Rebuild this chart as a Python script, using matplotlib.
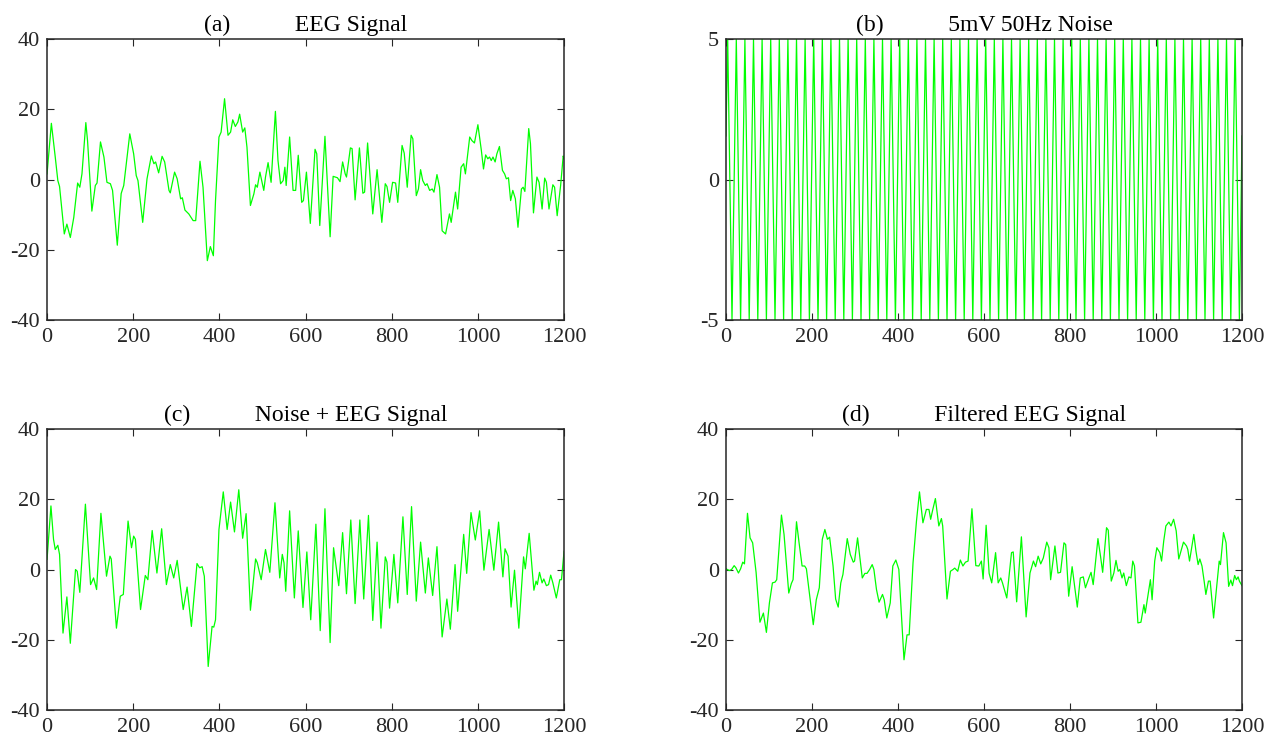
import numpy as np
import matplotlib
matplotlib.use("Agg")
import matplotlib.pyplot as plt

plt.rcParams['font.family'] = ['Liberation Serif', 'DejaVu Serif']
plt.rcParams['axes.unicode_minus'] = False

# (a) EEG signal
eeg_x = [0, 10, 19, 25, 29, 40, 46, 54, 62, 71, 76, 81, 90, 94, 104, 112, 116, 124, 132, 139,
         147, 152, 163, 172, 178, 192, 201, 207, 211, 222, 232, 242, 248, 252, 259, 267, 273, 283, 286, 296,
         302, 310, 314, 320, 329, 339, 345, 355, 362, 372, 379, 386, 391, 399, 404, 412, 420, 426, 431, 437,
         443, 447, 454, 459, 464, 472, 480, 484, 488, 494, 503, 507, 513, 520, 530, 536, 542, 548, 552, 555,
         563, 571, 577, 583, 591, 595, 602, 611, 622, 626, 633, 645, 657, 664, 674, 680, 686, 692, 695, 704,
         708, 715, 725, 733, 737, 744, 756, 766, 777, 785, 789, 795, 802, 809, 814, 824, 829, 836, 845, 849,
         857, 862, 867, 872, 878, 882, 888, 894, 898, 905, 911, 917, 925, 934, 938, 948, 953, 961, 967, 971,
         981, 986, 992, 1000, 1008, 1013, 1018, 1023, 1027, 1031, 1035, 1040, 1044, 1050, 1057, 1062, 1066, 1071, 1076, 1081,
         1087, 1093, 1101, 1105, 1109, 1118, 1122, 1129, 1137, 1142, 1149, 1155, 1159, 1165, 1174, 1178, 1184, 1192, 1198, 1200]
eeg_y = [1.6, 16, 6.4, -0.3, -2, -15.5, -12.7, -16.5, -10.8, -1, -2.2, 1.6, 16.2, 11, -9, -1.7, -1, 10.7, 6.4, -0.8,
         -1.2, -3.1, -18.7, -4, -1.7, 13, 7.3, 1.1, -0.3, -12.2, 0.2, 6.7, 4.5, 5, 1.9, 6.6, 5, -3.1, -3.8, 2.1,
         0.2, -5.5, -5.2, -8.7, -9.8, -11.7, -11.7, 5.2, -2.2, -23.1, -19.1, -21.7, -6, 12.1, 13.5, 23, 12.6, 13.5, 17, 15.1,
         16.4, 18.6, 13.5, 14.7, 9.2, -7.4, -4.1, -1.5, -2.2, 2.1, -3.1, 0.7, 4.8, -0.8, 19.4, 5.4, -1.2, -0.3, 3.5, -1.7,
         12.1, -3.1, -3.1, 6.9, -6.5, -6, 2.1, -12.5, 8.6, 7.3, -13.1, 12.3, -16.3, 0.9, 0.5, -0.6, 5, 1.6, 0.7, 9,
         8.8, -5.8, 9, -3.9, -3.6, 10.4, -9.8, 2.8, -12.2, -1.2, -2, -6.5, -0.8, -1, -6.5, 9.7, 7.5, -2.2, 12.6, 11.6,
         -4.6, -2.7, 2.8, -0.3, -1.7, -1.2, -3.1, -2.7, -3.6, 1.4, -2.2, -14.6, -15.5, -9.8, -12.2, -3.6, -8.4, 3.5, 4.5, 1.6,
         12.1, 11.1, 10.4, 15.6, 8.3, 3, 7, 5.9, 6.4, 5.4, 6.4, 5, 7.3, 9.4, 2.6, 1.6, 0.2, 0.5, -6, -3.1,
         -5.5, -13.6, -2.7, -2.2, -3.4, 14.5, 10.2, -9.5, 0.7, -0.8, -8.4, 0.4, -0.8, -8.4, -1.5, -2.2, -10.3, -1.7, 6.7, 5.9]

# (b) 5mV 50Hz noise: start/end values and the read peak / trough positions
noise_start = 1.55
noise_end = 1.55
noise_peaks = [4, 24, 44, 64, 84, 104, 124, 144, 164, 184, 204, 224, 244, 264, 284, 304, 324, 344, 364, 384,
               404, 424, 444, 464, 484, 504, 524, 544, 564, 584, 604, 624, 644, 664, 684, 704, 724, 744, 764, 784,
               804, 824, 844, 864, 884, 904, 924, 944, 964, 984, 1004, 1024, 1044, 1064, 1084, 1104, 1124, 1144, 1164, 1184]
noise_troughs = [14, 34, 54, 74, 94, 114, 134, 154, 174, 194, 214, 234, 254, 274, 294, 314, 334, 354, 374, 394,
                 414, 434, 454, 474, 494, 514, 534, 554, 574, 594, 614, 634, 654, 674, 694, 714, 734, 754, 774, 794,
                 814, 834, 854, 874, 894, 914, 934, 954, 974, 994, 1014, 1034, 1054, 1074, 1094, 1114, 1134, 1154, 1174, 1194]

# (c) noise + EEG
mix_x = [0, 9, 15, 19, 25, 29, 37, 46, 54, 66, 70, 76, 89, 101, 108, 115, 125, 138, 146, 149,
         161, 170, 177, 188, 196, 201, 205, 217, 228, 234, 244, 255, 266, 277, 286, 294, 302, 316, 325, 335,
         348, 354, 360, 365, 374, 383, 387, 391, 399, 409, 418, 426, 435, 445, 454, 462, 472, 484, 488, 497,
         507, 517, 529, 540, 546, 550, 554, 563, 574, 583, 594, 603, 612, 624, 634, 645, 657, 665, 677, 686,
         695, 705, 715, 726, 735, 746, 756, 766, 775, 785, 789, 795, 805, 814, 826, 836, 846, 857, 867, 878,
         885, 895, 905, 917, 928, 936, 947, 953, 967, 974, 984, 994, 1004, 1014, 1026, 1037, 1048, 1058, 1063, 1070,
         1077, 1085, 1095, 1106, 1110, 1119, 1130, 1135, 1138, 1143, 1149, 1153, 1159, 1164, 1169, 1174, 1182, 1190, 1194, 1200]
mix_y = [2.9, 18.1, 8.6, 5.7, 6.9, 4.3, -18.1, -7.8, -21, 0, -0.5, -6.5, 18.6, -4.3, -2.4, -5.7, 16, -1.9, 3.8, 3,
         -16.7, -7.6, -7.1, 13.8, 6.2, 9.5, 8.6, -11.4, -1.7, -2.9, 11.1, -1, 11.6, -4.3, 1.4, -2.4, 2.6, -11.4, -5, -16.2,
         1.7, 0.5, 0.8, -1.9, -27.6, -16.2, -16.4, -14.3, 11.4, 22.1, 11.4, 19.2, 10.7, 22.7, 8.9, 15.9, -11.6, 3, 1.9, -2.9,
         5.7, -0.8, 19, -2.4, 4.3, 1.9, -6.2, 16.7, -8.1, 11, -10.8, 5, -14.3, 12.9, -17.4, 17.3, -20.8, 6.2, -4.6, 10.5,
         -6.9, 14.1, -9.7, 14.1, -8.4, 15.4, -14.5, 7.8, -16.7, 3.6, 2.1, -11, 4.3, -9.5, 15, -7.1, 17.9, -9, 7.8, -6.7,
         3.3, -7.4, 6.5, -19.2, -8.4, -17, 1.4, -11.9, 10, -1.1, 16.2, 8.4, 16.7, -0.2, 11.4, -0.2, 13.5, -2.1, 5.9, 3.8,
         -10.7, -0.2, -16.7, 3.6, 0.2, 10.3, -5.9, -3.3, -4.3, -0.8, -3.8, -2.7, -4.6, -4.3, -1.6, -3.8, -8.1, -2.9, -2.9, 5.2]

# (d) filtered EEG
filt_x = [0, 8, 13, 19, 23, 29, 34, 39, 43, 50, 56, 62, 70, 79, 87, 94, 101, 108, 114, 118,
          129, 135, 146, 152, 156, 164, 170, 177, 183, 187, 203, 210, 217, 224, 230, 236, 241, 249, 255, 261,
          267, 272, 282, 289, 296, 299, 306, 311, 317, 323, 328, 334, 340, 344, 350, 356, 364, 368, 374, 382,
          388, 395, 402, 414, 421, 426, 435, 443, 450, 458, 466, 472, 476, 481, 487, 495, 501, 504, 514, 522,
          528, 532, 539, 545, 551, 557, 563, 572, 581, 588, 594, 598, 605, 612, 618, 627, 633, 639, 643, 653,
          664, 668, 676, 687, 698, 707, 715, 720, 726, 732, 738, 746, 751, 755, 765, 772, 778, 786, 790, 797,
          805, 817, 824, 831, 836, 844, 849, 854, 865, 871, 876, 885, 889, 896, 902, 907, 912, 916, 921, 925,
          931, 937, 942, 946, 950, 958, 965, 972, 975, 987, 991, 997, 1002, 1009, 1013, 1018, 1023, 1030, 1035, 1041,
          1047, 1053, 1058, 1064, 1071, 1074, 1078, 1088, 1093, 1098, 1102, 1107, 1112, 1116, 1122, 1126, 1134, 1142, 1147, 1150,
          1157, 1163, 1169, 1174, 1178, 1183, 1187, 1191, 1194, 1200]
filt_y = [0.2, -0.3, 0, 1.1, 0.5, -1, 0.2, 2.1, 1.6, 16, 9, 7.6, -0.8, -15, -12.4, -17.9, -9.5, -3.8, -3.6, -2.9,
          15.5, 10, -6.7, -4, -2.9, 13.6, 7.6, 1, 1, 0.2, -15.7, -8.6, -5.2, 8.6, 11.4, 8.6, 9.2, 1, -8.4, -10.7,
          -3.8, -1.4, 8.8, 4.3, 2.1, 2.4, 9, 3.8, -2.4, -1.1, -1.1, 0, 1.4, 0, -5.7, -9.3, -7.1, -8.6, -13.8, -9.5,
          1, 2.7, 0, -25.7, -18.6, -18.6, 1.9, 13.8, 22.1, 13.3, 17.1, 17.1, 14.3, 17.1, 20.2, 12.4, 14.5, 12.4, -8.4, -0.5,
          0, 0.4, -0.5, 2.7, 1, 2.1, 2.4, 17.3, 1.1, 1, 2.4, -2.7, 12.6, -1.1, -3.8, 4.8, -3.8, -2.4, -3.8, -8.1,
          4.8, 5, -9.2, 9.3, -13.5, -1, 2.4, 0.8, 3.8, 1.6, 3.3, 7.8, 6.2, -2.9, 6.7, -1, -0.8, 7.6, 7.1, -7.6,
          0.8, -10.7, -2.4, -2.1, -5.2, -2.4, -0.8, -4.3, 8.8, 3.8, -0.8, 11.9, 11.2, -3.3, -1, 2.6, -0.5, 0, -2.4, -1,
          -4.6, -2.1, -2.4, 2.4, 1, -15.2, -15, -10, -12.4, -2.9, -8.6, 2.4, 6.2, 4.8, 2.4, 8.1, 12.4, 13.5, 12.4, 14.3,
          11, 3, 5.2, 7.8, 6.7, 5.7, 2.4, 10, 5.2, 1.4, 3, 1, -3.3, -7.1, -3.3, -3.3, -13.8, -3.8, 2.4, 1.4,
          10.5, 7.6, -4.8, -3, -4.6, -1.7, -2.9, -2.1, -3.3, -4.6]

# build the noise trace from the read extremes
noise_x = [0] + sorted(noise_peaks + noise_troughs) + [1200]
noise_y = [noise_start] + [5 if x in noise_peaks else -5 for x in noise_x[1:-1]] + [noise_end]

fig = plt.figure(figsize=(12.65, 7.43), dpi=100)

gap = ' ' * 11
panels = [
    ([0.0372, 0.5693, 0.4087, 0.3782], eeg_x, eeg_y, '(a)' + gap + 'EEG Signal', 40, [-40, -20, 0, 20, 40]),
    ([0.5739, 0.5693, 0.4079, 0.3782], noise_x, noise_y, '(b)' + gap + '5mV 50Hz Noise', 5, [-5, 0, 5]),
    ([0.0372, 0.0444, 0.4087, 0.3782], mix_x, mix_y, '(c)' + gap + 'Noise + EEG Signal', 40, [-40, -20, 0, 20, 40]),
    ([0.5739, 0.0444, 0.4079, 0.3782], filt_x, filt_y, '(d)' + gap + 'Filtered EEG Signal', 40, [-40, -20, 0, 20, 40]),
]

for pos, xs, ys, title, lim, yt in panels:
    ax = fig.add_axes(pos)
    ax.plot(xs, ys, color='#00ff00', lw=0.9, solid_joinstyle='round')
    ax.set_xlim(0, 1200)
    ax.set_ylim(-lim, lim)
    ax.set_xticks(range(0, 1201, 200))
    ax.set_yticks(yt)
    ax.tick_params(direction='in', top=True, right=True, length=5, width=0.8,
                   labelsize=16, colors='#262626')
    ax.tick_params(axis='x', pad=6)
    ax.tick_params(axis='y', pad=5)
    for s in ax.spines.values():
        s.set_linewidth(1.1)
        s.set_color('#262626')
    ax.set_title(title, fontsize=17, color='#000000', pad=6)

fig.savefig('out.png', dpi=100)
